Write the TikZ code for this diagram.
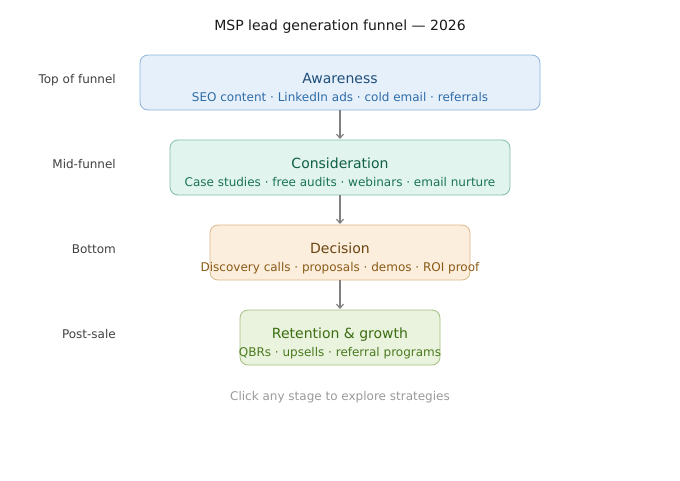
\documentclass[tikz,border=0pt]{standalone}
\usepackage{fontspec}
\setmainfont{DejaVu Sans}
\usetikzlibrary{arrows.meta,positioning}

\definecolor{awFill}{HTML}{E6F0FB}
\definecolor{awLine}{HTML}{8DB2D9}
\definecolor{awText}{HTML}{1F4E79}
\definecolor{awSub}{HTML}{2F6CA6}
\definecolor{coFill}{HTML}{E1F5EE}
\definecolor{coLine}{HTML}{7FBFA5}
\definecolor{coText}{HTML}{0F5E45}
\definecolor{coSub}{HTML}{1A7355}
\definecolor{deFill}{HTML}{FBEEDD}
\definecolor{deLine}{HTML}{D9B88A}
\definecolor{deText}{HTML}{6B4410}
\definecolor{deSub}{HTML}{8A5A16}
\definecolor{reFill}{HTML}{EAF3DE}
\definecolor{reLine}{HTML}{A2BF80}
\definecolor{reText}{HTML}{3B6D11}
\definecolor{reSub}{HTML}{4A7A1E}

\begin{document}
\begin{tikzpicture}[x=1pt,y=-1pt,>={Straight Barb[length=4pt,width=7pt]},
  stage/.style={draw,rounded corners=8pt,line width=0.8pt},
  head/.style={anchor=base,inner sep=0pt,font=\fontsize{14}{16}\selectfont},
  sub/.style={anchor=base,inner sep=0pt,font=\fontsize{12}{14}\selectfont},
  side/.style={anchor=base east,inner sep=0pt,text=black!75,font=\fontsize{12}{14}\selectfont},
  flow/.style={draw=black!50,line width=1.2pt}]
  \useasboundingbox (0,0) rectangle (680,480);

  \node[head,text=black!90] (title) at (340,30) {MSP lead generation funnel — 2026};

  % stage boxes
  \draw[stage,fill=awFill,draw=awLine] (140,55) rectangle (540,110);
  \draw[stage,fill=coFill,draw=coLine] (170,140) rectangle (510,195);
  \draw[stage,fill=deFill,draw=deLine] (210,225) rectangle (470,280);
  \draw[stage,fill=reFill,draw=reLine] (240,310) rectangle (440,365);
  \coordinate (aw-s) at (340,110);
  \coordinate (co-n) at (340,139);
  \coordinate (co-s) at (340,195);
  \coordinate (de-n) at (340,224);
  \coordinate (de-s) at (340,280);
  \coordinate (re-n) at (340,309);

  \node[head,text=awText] (aw) at (340,83) {Awareness};
  \node[sub,text=awSub] (aw-sub) at (340,101) {SEO content · LinkedIn ads · cold email · referrals};
  \node[head,text=coText] (co) at (340,168) {Consideration};
  \node[sub,text=coSub] (co-sub) at (340,186) {Case studies · free audits · webinars · email nurture};
  \node[head,text=deText] (de) at (340,253) {Decision};
  \node[sub,text=deSub] (de-sub) at (340,271) {Discovery calls · proposals · demos · ROI proof};
  \node[head,text=reText] (re) at (340,338) {Retention \& growth};
  \node[sub,text=reSub] (re-sub) at (340,356) {QBRs · upsells · referral programs};

  % side labels
  \node[side] (l1) at (116,83.5) {Top of funnel};
  \node[side] (l2) at (116,168.5) {Mid-funnel};
  \node[side] (l3) at (116,253.5) {Bottom};
  \node[side] (l4) at (116,338.5) {Post-sale};

  \path[flow]
    (aw-s) edge[->] (co-n)
    (co-s) edge[->] (de-n)
    (de-s) edge[->] (re-n);

  \node[sub,text=black!40] (hint) at (340,400) {Click any stage to explore strategies};
\end{tikzpicture}
\end{document}
